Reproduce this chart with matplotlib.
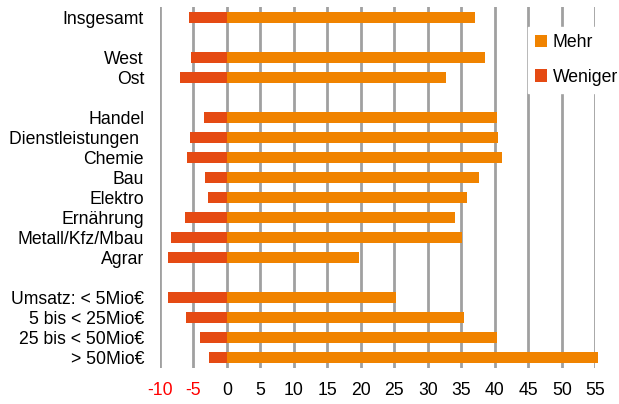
import matplotlib.pyplot as plt
import numpy as np

# data
labels = ['Insgesamt', '', 'West', 'Ost', '',
          'Handel', 'Dienstleistungen ', 'Chemie', 'Bau', 'Elektro',
          'Ernährung', 'Metall/Kfz/Mbau', 'Agrar', '',
          'Umsatz: < 5Mio€', '5 bis < 25Mio€', '25 bis < 50Mio€', '> 50Mio€']
mehr = [37.0, np.nan, 38.5, 32.7, np.nan,
        40.3, 40.5, 41.0, 37.7, 35.8,
        34.1, 35.1, 19.7, np.nan,
        25.3, 35.4, 40.3, 55.4]
weniger = [-5.7, np.nan, -5.4, -7.0, np.nan,
           -3.5, -5.5, -6.0, -3.3, -2.9,
           -6.3, -8.4, -8.8, np.nan,
           -8.8, -6.1, -4.0, -2.7]
xticks = list(range(-10, 60, 5))

c_mehr = '#F08300'
c_weniger = '#E54A13'

plt.rcParams['font.family'] = ['Liberation Sans', 'DejaVu Sans']
plt.rcParams['font.size'] = 12.7

fig = plt.figure(figsize=(6.19, 4.04), dpi=100)
ax = fig.add_axes([160 / 619, 1 - 368 / 404, (595.3 - 160) / 619, 361 / 404])

y = np.arange(len(labels))
ax.barh(y, mehr, height=0.55, color=c_mehr, label='Mehr', zorder=3, clip_on=False)
ax.barh(y, weniger, height=0.55, color=c_weniger, label='Weniger', zorder=3, clip_on=False)

ax.set_xlim(-10, 55)
ax.set_ylim(len(labels) - 0.5, -0.5)
ax.set_yticks(y)
ax.set_yticklabels(labels)
ax.set_xticks(xticks)
ax.set_xticklabels([str(t) for t in xticks])
for t in ax.get_xticklabels():
    if t.get_text().startswith('-'):
        t.set_color('#FF0000')

ax.grid(axis='x', color='#A0A0A0', linewidth=2, zorder=0)
for s in ax.spines.values():
    s.set_visible(False)
ax.tick_params(axis='y', length=0, pad=11.5)
ax.tick_params(axis='x', length=0, pad=10)

# legend sits on the grid, white box hides the lines behind it
leg = ax.legend(loc='upper left', bbox_to_anchor=((528 - 160) / 435.3, 1 - 20 / 361),
                frameon=True, fancybox=False, edgecolor='white', framealpha=1,
                handlelength=0.7, handleheight=0.7, handletextpad=0.3,
                labelspacing=1.0, borderaxespad=0)
leg.set_zorder(5)

fig.savefig('out.png', dpi=100)
